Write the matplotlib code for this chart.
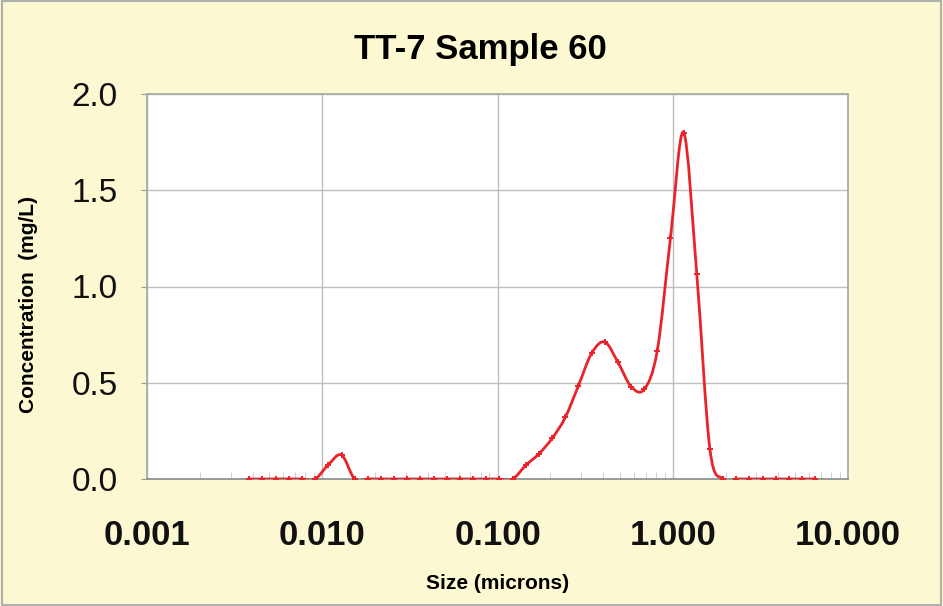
import matplotlib.pyplot as plt
import numpy as np
from matplotlib.path import Path
from matplotlib.patches import PathPatch
from matplotlib.ticker import FixedLocator, LogLocator, NullFormatter

plt.rcParams['font.family'] = ['Liberation Sans', 'DejaVu Sans']

# particle sizes (microns)
sizes = [0.00384, 0.00456, 0.00542, 0.00645, 0.00766, 0.00911, 0.01083, 0.01288,
         0.01531, 0.01820, 0.02163, 0.02572, 0.03058, 0.03636, 0.04323, 0.05139,
         0.0611, 0.0726, 0.0863, 0.1026, 0.1220, 0.1450, 0.1724, 0.2049,
         0.2436, 0.2897, 0.3444, 0.4095, 0.4868, 0.5788, 0.6881, 0.816,
         0.970, 1.153, 1.371, 1.630, 1.938, 2.304, 2.74, 3.26,
         3.87, 4.60, 5.47, 6.50]
# concentration (mg/L)
conc = [0, 0, 0, 0, 0, 0, 0.074, 0.125,
        0, 0, 0, 0, 0, 0, 0, 0,
        0, 0, 0, 0, 0, 0.071, 0.131, 0.211,
        0.32, 0.485, 0.653, 0.712, 0.606, 0.48, 0.466, 0.667,
        1.25, 1.80, 1.065, 0.154, 0, 0, 0, 0,
        0, 0, 0, 0]

x_ticks = [0.001, 0.01, 0.1, 1, 10]
x_tick_labels = ["0.001", "0.010", "0.100", "1.000", "10.000"]
y_ticks = [0.0, 0.5, 1.0, 1.5, 2.0]

bg = "#fbf8d2"
red = "#e8232a"


def smooth_path(xs, ys):
    # Excel-style smoothed line: cubic Bezier segments through the points (in log-x space)
    lx = np.log10(xs)
    y = np.asarray(ys, dtype=float)
    n = len(lx)
    verts = [(xs[0], y[0])]
    codes = [Path.MOVETO]
    for i in range(n - 1):
        i0 = max(i - 1, 0)
        i3 = min(i + 2, n - 1)
        c1x = lx[i] + (lx[i + 1] - lx[i0]) / 6
        c1y = y[i] + (y[i + 1] - y[i0]) / 6
        c2x = lx[i + 1] - (lx[i3] - lx[i]) / 6
        c2y = y[i + 1] - (y[i3] - y[i]) / 6
        verts += [(10 ** c1x, c1y), (10 ** c2x, c2y), (xs[i + 1], y[i + 1])]
        codes += [Path.CURVE4] * 3
    return Path(verts, codes)


fig = plt.figure(figsize=(9.43, 6.06), dpi=100, facecolor=bg)
ax = fig.add_axes([147 / 943, 1 - 479 / 606, 701 / 943, 385 / 606])
ax.set_facecolor("white")

ax.set_xscale("log")
ax.set_xlim(0.001, 10)
ax.set_ylim(0, 2.0)

ax.add_patch(PathPatch(smooth_path(sizes, conc), facecolor="none", edgecolor=red, lw=2, zorder=3))
ax.plot(sizes, conc, linestyle="none", marker="+", ms=5, mew=1.4, color=red, zorder=4)

ax.xaxis.set_major_locator(FixedLocator(x_ticks))
ax.set_xticklabels(x_tick_labels, fontsize=25, fontweight="bold")
ax.xaxis.set_minor_locator(LogLocator(base=10, subs=np.arange(2, 10)))
ax.xaxis.set_minor_formatter(NullFormatter())
ax.set_yticks(y_ticks)
ax.set_yticklabels([f"{v:.1f}" for v in y_ticks], fontsize=24)

ax.tick_params(axis="x", which="major", direction="in", length=0, pad=29, colors="#111111")
ax.tick_params(axis="x", which="minor", direction="in", length=5, color="#c8c8c8")
ax.tick_params(axis="y", which="major", length=4, color="#999999", pad=17, labelcolor="#111111")

ax.grid(True, which="major", color="#bdbdbd", lw=1)
for s in ax.spines.values():
    s.set_color("#a8a8a8")
    s.set_linewidth(1.2)
ax.spines["bottom"].set_color("#8a8a8a")

ax.set_title("TT-7 Sample 60", fontsize=25, fontweight="bold", pad=25, x=0.475)
ax.set_xlabel("Size (microns)", fontsize=15, fontweight="bold")
ax.set_ylabel("Concentration  (mg/L)", fontsize=15, fontweight="bold")
ax.xaxis.set_label_coords(0.5, -0.247)
ax.yaxis.set_label_coords(-0.155, 0.452)

fig.patches.append(plt.Rectangle((0.002, 0.002), 0.996, 0.996, transform=fig.transFigure,
                                 fill=False, edgecolor="#b0b0b0", lw=1.5))

fig.savefig("out.png", dpi=100, facecolor=bg)
